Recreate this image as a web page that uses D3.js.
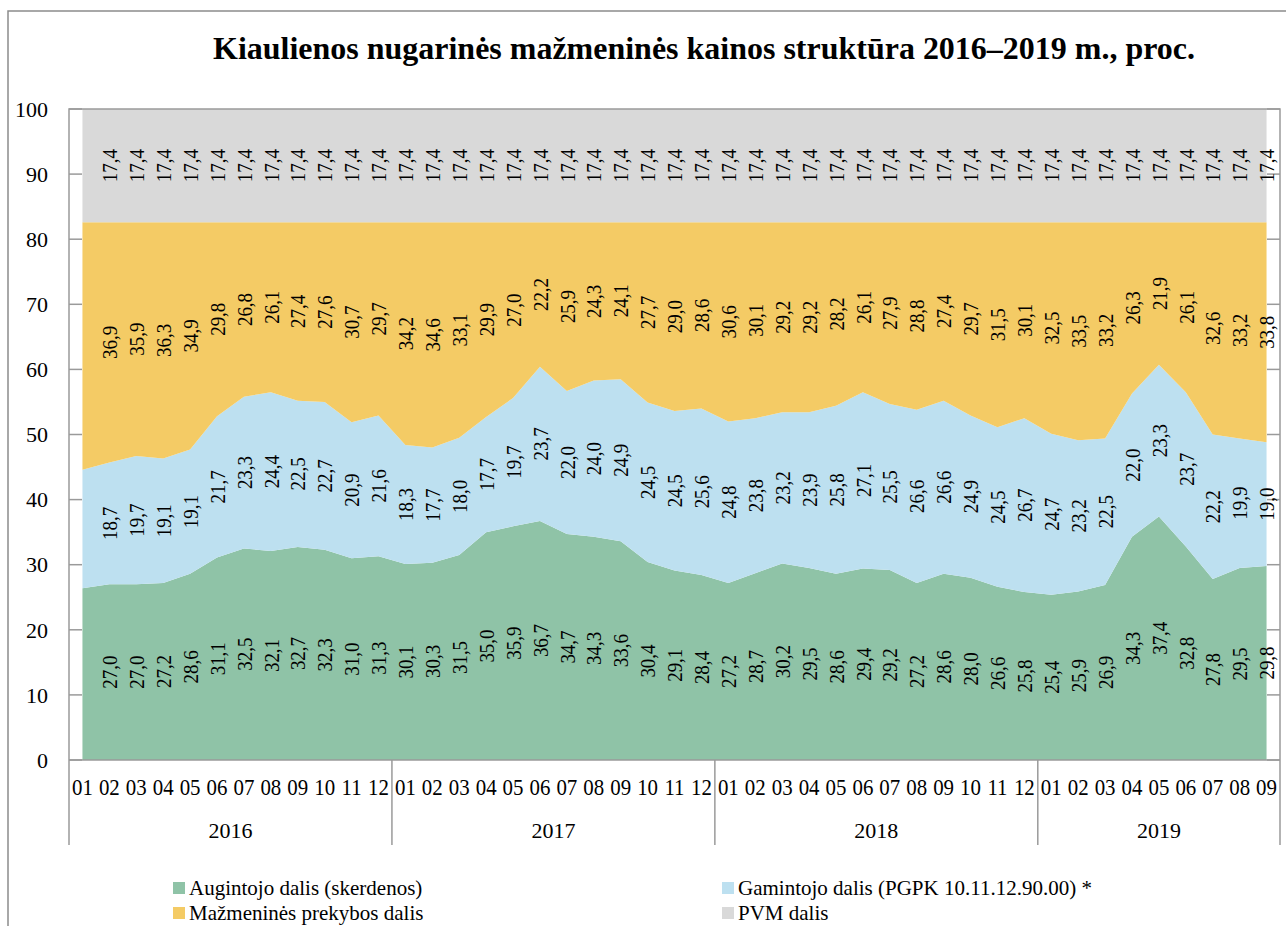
<!DOCTYPE html>
<meta charset="utf-8">
<style>

body {
  margin: 0;
  background: #fff;
}

text {
  font-family: "Times New Roman", "Liberation Serif", serif;
  fill: #000;
}

.frame {
  fill: none;
  stroke: #8c8c8c;
  stroke-width: 1.5px;
}

.axis-line {
  stroke: #9a9a9a;
  stroke-width: 1.5px;
  fill: none;
}

</style>
<svg width="1286" height="926"></svg>
<script src="https://cdn.jsdelivr.net/npm/d3@7"></script>
<script>

// months on the category axis, 2016-01 .. 2019-09
var months = ["01","02","03","04","05","06","07","08","09","10","11","12",
              "01","02","03","04","05","06","07","08","09","10","11","12",
              "01","02","03","04","05","06","07","08","09","10","11","12",
              "01","02","03","04","05","06","07","08","09"];
var years = ["2016", "2017", "2018", "2019"];
var monthsPerYear = [12, 12, 12, 9];

var augintojo = [26.4, 27.0, 27.0, 27.2, 28.6, 31.1, 32.5, 32.1, 32.7, 32.3, 31.0, 31.3,
                 30.1, 30.3, 31.5, 35.0, 35.9, 36.7, 34.7, 34.3, 33.6, 30.4, 29.1, 28.4,
                 27.2, 28.7, 30.2, 29.5, 28.6, 29.4, 29.2, 27.2, 28.6, 28.0, 26.6, 25.8,
                 25.4, 25.9, 26.9, 34.3, 37.4, 32.8, 27.8, 29.5, 29.8];
var gamintojo = [18.2, 18.7, 19.7, 19.1, 19.1, 21.7, 23.3, 24.4, 22.5, 22.7, 20.9, 21.6,
                 18.3, 17.7, 18.0, 17.7, 19.7, 23.7, 22.0, 24.0, 24.9, 24.5, 24.5, 25.6,
                 24.8, 23.8, 23.2, 23.9, 25.8, 27.1, 25.5, 26.6, 26.6, 24.9, 24.5, 26.7,
                 24.7, 23.2, 22.5, 22.0, 23.3, 23.7, 22.2, 19.9, 19.0];
var prekybos = [38.0, 36.9, 35.9, 36.3, 34.9, 29.8, 26.8, 26.1, 27.4, 27.6, 30.7, 29.7,
                34.2, 34.6, 33.1, 29.9, 27.0, 22.2, 25.9, 24.3, 24.1, 27.7, 29.0, 28.6,
                30.6, 30.1, 29.2, 29.2, 28.2, 26.1, 27.9, 28.8, 27.4, 29.7, 31.5, 30.1,
                32.5, 33.5, 33.2, 26.3, 21.9, 26.1, 32.6, 33.2, 33.8];
var pvm = [17.4, 17.4, 17.4, 17.4, 17.4, 17.4, 17.4, 17.4, 17.4, 17.4, 17.4, 17.4,
           17.4, 17.4, 17.4, 17.4, 17.4, 17.4, 17.4, 17.4, 17.4, 17.4, 17.4, 17.4,
           17.4, 17.4, 17.4, 17.4, 17.4, 17.4, 17.4, 17.4, 17.4, 17.4, 17.4, 17.4,
           17.4, 17.4, 17.4, 17.4, 17.4, 17.4, 17.4, 17.4, 17.4];

var yTicks = [0, 10, 20, 30, 40, 50, 60, 70, 80, 90, 100];

var series = [
  {key: "aug", name: "Augintojo dalis (skerdenos)", values: augintojo, color: "#8fc3a7"},
  {key: "gam", name: "Gamintojo dalis (PGPK 10.11.12.90.00) *", values: gamintojo, color: "#bde0f0"},
  {key: "pre", name: "Mažmeninės prekybos dalis", values: prekybos, color: "#f4cb65"},
  {key: "pvm", name: "PVM dalis", values: pvm, color: "#d9d9d9"}
];

var svg = d3.select("svg");

// outer chart frame (runs off the right and bottom of the picture)
svg.append("path")
    .attr("class", "frame")
    .attr("d", "M8,926V11H1290");

svg.append("text")
    .attr("x", 704)
    .attr("y", 59)
    .attr("text-anchor", "middle")
    .attr("textLength", 982)
    .attr("lengthAdjust", "spacingAndGlyphs")
    .style("font-size", "31px")
    .style("font-weight", "bold")
    .text("Kiaulienos nugarinės mažmeninės kainos struktūra 2016–2019 m., proc.");

var plotLeft = 69, plotRight = 1280, plotTop = 109, plotBottom = 760;

// one band per month, points sit at the band centres
var x = d3.scaleBand()
    .domain(d3.range(months.length))
    .range([plotLeft, plotRight])
    .padding(0);
var bw = x.bandwidth();
function cx(i) { return x(i) + bw / 2; }

var y = d3.scaleLinear().domain([0, 100]).range([plotBottom, plotTop]);

var table = months.map(function(m, i) {
  var row = {i: i};
  series.forEach(function(s) { row[s.key] = s.values[i]; });
  return row;
});

var stack = d3.stack().keys(series.map(function(s) { return s.key; }));
var layers = stack(table);

var area = d3.area()
    .x(function(d) { return cx(d.data.i); })
    .y0(function(d) { return y(d[0]); })
    .y1(function(d) { return y(d[1]); });

var g = svg.append("g");

g.selectAll(".layer")
  .data(layers)
  .enter().append("path")
    .attr("class", "layer")
    .attr("d", area)
    .attr("fill", function(d, i) { return series[i].color; });

// plot box and inward ticks on both sides
g.append("path")
    .attr("class", "axis-line")
    .attr("d", "M" + plotLeft + "," + (plotBottom + 85) + "V" + plotTop + "H" + plotRight + "V" + (plotBottom + 85));
g.append("line")
    .attr("class", "axis-line")
    .attr("x1", plotLeft).attr("x2", plotRight)
    .attr("y1", plotBottom).attr("y2", plotBottom);

var yAxis = g.append("g").attr("class", "y-ticks");
yAxis.selectAll(".tl")
  .data(yTicks)
  .enter().append("line")
    .attr("class", "axis-line")
    .attr("x1", plotLeft).attr("x2", plotLeft + 13)
    .attr("y1", function(d) { return y(d); })
    .attr("y2", function(d) { return y(d); });
yAxis.selectAll(".tr")
  .data(yTicks)
  .enter().append("line")
    .attr("class", "axis-line")
    .attr("x1", plotRight - 13).attr("x2", plotRight)
    .attr("y1", function(d) { return y(d); })
    .attr("y2", function(d) { return y(d); });
yAxis.selectAll("text")
  .data(yTicks)
  .enter().append("text")
    .attr("x", 48)
    .attr("y", function(d) { return y(d); })
    .attr("dy", "0.35em")
    .attr("text-anchor", "end")
    .style("font-size", "22px")
    .text(function(d) { return d; });

// month labels
g.selectAll(".month")
  .data(months)
  .enter().append("text")
    .attr("class", "month")
    .attr("transform", function(d, i) { return "translate(" + cx(i) + ",795) scale(0.87,1)"; })
    .attr("text-anchor", "middle")
    .style("font-size", "24px")
    .text(function(d) { return d; });

// year groups and separators
var start = 0;
years.forEach(function(yr, k) {
  var x0 = x(start), x1 = x(start + monthsPerYear[k] - 1) + bw;
  if (k > 0) {
    g.append("line")
        .attr("class", "axis-line")
        .attr("x1", x0).attr("x2", x0)
        .attr("y1", plotBottom).attr("y2", plotBottom + 85);
  }
  g.append("text")
      .attr("x", (x0 + x1) / 2)
      .attr("y", 838)
      .attr("text-anchor", "middle")
      .style("font-size", "22px")
      .text(yr);
  start += monthsPerYear[k];
});

// data labels, rotated, in the middle of each band of the stack
var fmt = function(v) { return v.toFixed(1).replace(".", ","); };
layers.forEach(function(layer, li) {
  g.selectAll(".lbl" + li)
    .data(layer.filter(function(d) { return d.data.i > 0; }))
    .enter().append("text")
      .attr("transform", function(d) {
        return "translate(" + cx(d.data.i) + "," + y((d[0] + d[1]) / 2) + ") rotate(-90) scale(0.86,1)";
      })
      .attr("text-anchor", "middle")
      .attr("dy", "0.35em")
      .style("font-size", "22px")
      .text(function(d) { return fmt(d[1] - d[0]); });
});

// legend, two columns
var legendPos = [[173, 882], [722, 882], [173, 907], [722, 907]];
var legend = svg.selectAll(".legend")
  .data(series)
  .enter().append("g")
    .attr("class", "legend")
    .attr("transform", function(d, i) { return "translate(" + legendPos[i][0] + "," + legendPos[i][1] + ")"; });

legend.append("rect")
    .attr("width", 12)
    .attr("height", 12)
    .attr("fill", function(d) { return d.color; });

legend.append("text")
    .attr("x", 16)
    .attr("y", 6)
    .attr("dy", "0.35em")
    .style("font-size", "21px")
    .text(function(d) { return d.name; });

</script>
